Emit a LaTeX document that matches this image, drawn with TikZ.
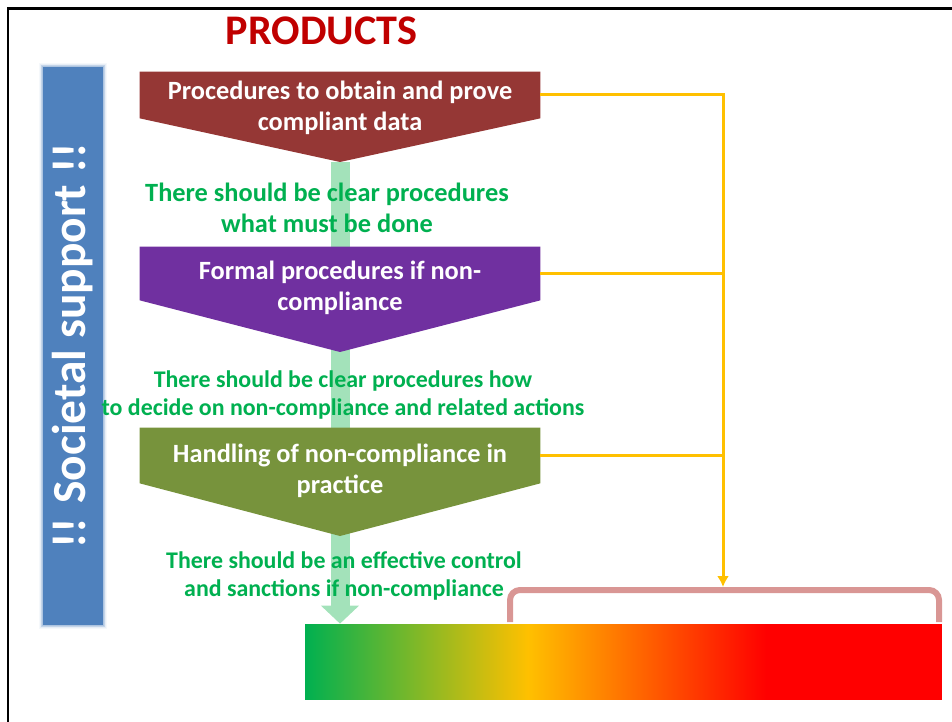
\documentclass[tikz,border=0pt]{standalone}
\usepackage{fontspec}
\setmainfont{Carlito}
\usetikzlibrary{arrows.meta,shadings}

\definecolor{titlered}{HTML}{C00000}
\definecolor{stagebrown}{HTML}{953735}
\definecolor{stagepurple}{HTML}{7030A0}
\definecolor{stageolive}{HTML}{77933C}
\definecolor{notegreen}{HTML}{00B050}
\definecolor{feedyellow}{HTML}{FFC000}
\definecolor{bracketpink}{HTML}{D99694}
\definecolor{barblue}{HTML}{4F81BD}
\definecolor{flowgreen}{HTML}{A3E2BA}
\definecolor{okgreen}{HTML}{00B050}
\definecolor{alarmred}{HTML}{FF0000}

% green -> yellow -> red scale
\pgfdeclarehorizontalshading{riskscale}{100bp}{color(0bp)=(okgreen); color(25bp)=(okgreen); color(42.5bp)=(feedyellow); color(61.2bp)=(alarmred); color(75bp)=(alarmred); color(100bp)=(alarmred)}

\begin{document}
\begin{tikzpicture}[x=0.02cm,y=-0.02cm,>=Latex,
  stagebox/.style={minimum width=8cm,inner sep=0pt},
  stagetext/.style={text=white,font=\bfseries\fontsize{15}{18}\selectfont,align=center,inner sep=0pt},
  notetext/.style={text=notegreen,font=\bfseries\fontsize{13.6}{16.4}\selectfont,align=center,inner sep=0pt},
  feed/.style={draw=feedyellow,line width=0.06cm}]
\useasboundingbox (0,0) rectangle (952,722);
\draw[line width=0.05cm] (8,722) -- (8,8.5) -- (952,8.5);

% side bar, soft edge first
\foreach \g/\o in {4/0.06,3.2/0.08,2.4/0.1,1.6/0.14,0.8/0.2}
  \fill[barblue,opacity=\o] (43-\g,67-\g) rectangle (103+\g,625+\g);
\node[fill=barblue,minimum width=11.16cm,minimum height=1.2cm,rotate=90,text=white,font=\bfseries\fontsize{27}{30}\selectfont,inner sep=0pt] (support) at (73,346) {!! Societal support !!};

\node[text=titlered,font=\bfseries\fontsize{24}{28}\selectfont,anchor=base] (products) at (321.5,45) {PRODUCTS};

% stages
\node[stagebox,minimum height=0.92cm] (obtain) at (340,95) {};
\node[stagebox,minimum height=1.06cm] (formal) at (340,273.5) {};
\node[stagebox,minimum height=1.1cm] (handling) at (340,455.5) {};
\coordinate (obtaintip) at (340,162);
\coordinate (formaltip) at (340,352);
\coordinate (handlingtip) at (340,536);

\node[shade,shading=riskscale,minimum width=12.74cm,minimum height=1.52cm,inner sep=0pt] (risk) at (623.5,662) {};

\draw[draw=flowgreen,line width=0.38cm,-{Triangle[width=0.74cm,length=0.36cm]}] (obtaintip) -- (obtaintip |- risk.north);

\fill[stagebrown] (obtain.north west) -- (obtain.north east) -- (obtain.south east) -- (obtaintip) -- (obtain.south west) -- cycle;
\fill[stagepurple] (formal.north west) -- (formal.north east) -- (formal.south east) -- (formaltip) -- (formal.south west) -- cycle;
\fill[stageolive] (handling.north west) -- (handling.north east) -- (handling.south east) -- (handlingtip) -- (handling.south west) -- cycle;

\node[stagetext] (obtaintxt) at (340,108) {Procedures to obtain and prove\\compliant data};
\node[stagetext] (formaltxt) at (340,288) {Formal procedures if non-\\compliance};
\node[stagetext] (handlingtxt) at (340,471) {Handling of non-compliance in\\practice};

\node[notetext,font=\bfseries\fontsize{15}{17.5}\selectfont] (whatnote) at (327,208) {There should be clear procedures\\what must be done};
\node[notetext] (hownote) at (343,395) {There should be clear procedures how\\to decide on non-compliance and related actions};
\node[notetext] (controlnote) at (344,576) {There should be an effective control\\and sanctions if non-compliance};

% feedback to the scale
\coordinate (verdict) at (723,587);
\draw[feed,-{Latex[width=0.24cm,length=0.22cm]}] (obtain.east) -| (verdict);
\draw[feed] (formal.east) -- (formal.east -| verdict);
\draw[feed] (handling.east) -- (handling.east -| verdict);

\draw[bracketpink,line width=0.12cm,rounded corners=0.2cm] (510,622) -- (510,590) -- (939,590) -- (939,622);
\end{tikzpicture}
\end{document}
